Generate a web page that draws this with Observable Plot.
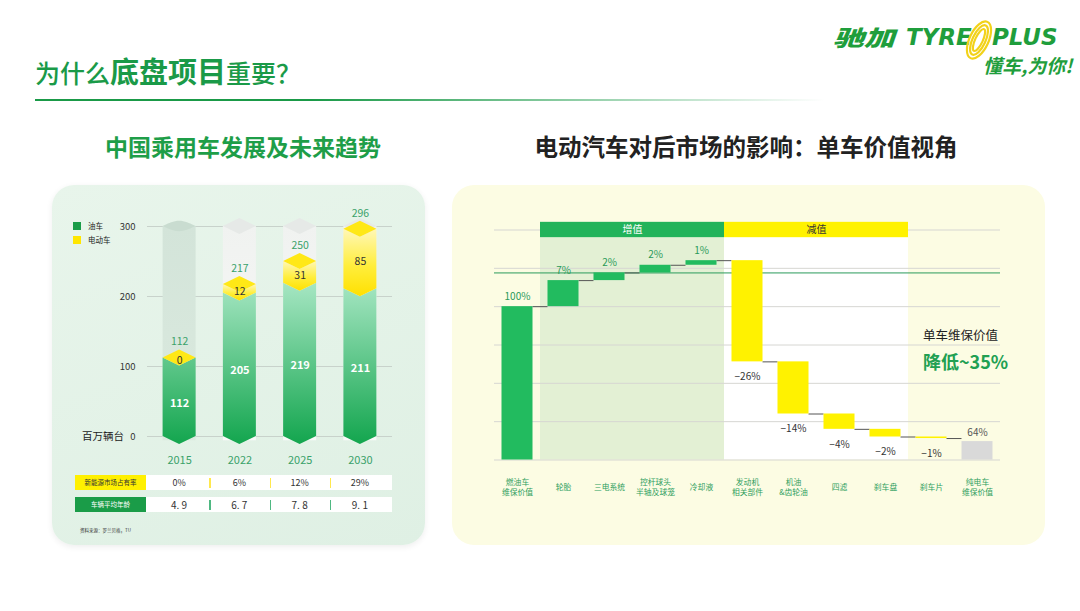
<!DOCTYPE html>
<html><head><meta charset="utf-8">
<script src="https://cdn.jsdelivr.net/npm/d3@7"></script>
<script src="https://cdn.jsdelivr.net/npm/@observablehq/plot@0.6"></script>
<style>
html,body{margin:0;padding:0}
body{width:1080px;height:611px;overflow:hidden;background:#fff;position:relative;font-family:"Noto Sans CJK SC","Noto Sans",sans-serif}
.a{position:absolute;white-space:nowrap;line-height:1}
.chart{position:absolute}
</style></head><body>
<svg width="0" height="0" style="position:absolute">
<defs>
 <linearGradient id="gGreen" gradientUnits="userSpaceOnUse" x1="0" y1="100" x2="0" y2="258">
   <stop offset="0" stop-color="#a4e5c1"/><stop offset="1" stop-color="#14a64f"/>
 </linearGradient>
 <linearGradient id="gYellow" x1="0" y1="0" x2="0" y2="1">
   <stop offset="0" stop-color="#fff7b8"/><stop offset="0.55" stop-color="#ffee3c"/><stop offset="1" stop-color="#ffe000"/>
 </linearGradient>
 <linearGradient id="colA" x1="0" y1="0" x2="0" y2="1">
   <stop offset="0" stop-color="#d3e4d9"/><stop offset="1" stop-color="#dbeadf"/>
 </linearGradient>
 <linearGradient id="colB" x1="0" y1="0" x2="0" y2="1">
   <stop offset="0" stop-color="#f0f2f0"/><stop offset="1" stop-color="#f9faf9"/>
 </linearGradient>
</defs></svg>

<!-- title -->
<div class="a" style="left:35px;top:56px;color:#1a9a48;font-size:25px;font-weight:500">为什么<span style="font-size:29px;font-weight:700">底盘项目</span>重要？</div>
<div class="a" style="left:35px;top:99px;width:790px;height:2px;background:linear-gradient(to right,#1a9a48 0%,#1a9a48 35%,rgba(26,154,72,0) 100%)"></div>

<!-- logo -->
<div class="a" style="left:833px;top:25px;color:#1f9e3c;font-size:22px;font-weight:900;font-style:italic;transform:scaleX(1.4);transform-origin:left">驰加</div>
<div class="a" style="left:906px;top:26px;color:#1f9e3c;font-size:23px;font-weight:bold;font-style:italic;font-family:'DejaVu Sans'">TYRE</div>
<svg class="a" style="left:958px;top:17px" width="42" height="46" viewBox="0 0 42 46">
 <g fill="none" stroke="#f2d21a" stroke-width="2.2" transform="rotate(25 21 23)">
  <ellipse cx="21" cy="23" rx="9.5" ry="20"/><ellipse cx="21" cy="23" rx="6.5" ry="16"/><ellipse cx="21" cy="23" rx="3.8" ry="12"/>
 </g>
</svg>
<div class="a" style="left:992px;top:26px;color:#1f9e3c;font-size:23px;font-weight:bold;font-style:italic;font-family:'DejaVu Sans'">PLUS</div>
<div class="a" style="left:983px;top:55px;color:#1f9e3c;font-size:19px;font-weight:700;font-style:italic">懂车,为你!</div>

<!-- subtitles -->
<div class="a" style="left:243px;top:135px;transform:translateX(-50%);color:#1e9e48;font-size:23px;font-weight:700">中国乘用车发展及未来趋势</div>
<div class="a" style="left:746px;top:135px;transform:translateX(-50%);color:#222;font-size:23.5px;font-weight:700">电动汽车对后市场的影响：单车价值视角</div>

<!-- panels -->
<div class="a" style="left:52px;top:185px;width:373px;height:360px;border-radius:22px;background:linear-gradient(160deg,#e8f5eb,#dff0e4);box-shadow:0 2px 6px rgba(0,0,0,0.07)"></div>
<div class="a" style="left:452px;top:185px;width:593px;height:360px;border-radius:22px;background:#fcfce3"></div>

<div id="leftChart" class="chart" style="left:52px;top:185px"></div>
<div id="rightChart" class="chart" style="left:452px;top:185px"></div>
<div id="extras"></div>

<script>
// ---------- data: left chart ----------
const years = ["2015", "2022", "2025", "2030"];
const oilCars = [112, 205, 219, 211];     // 油车 (百万辆台)
const evCars = [0, 12, 31, 85];           // 电动车
const totals = [112, 217, 250, 296];      // 总量
const leftTicks = [0, 100, 200, 300];
const leftYMax = 300;
const evShare = ["0%", "6%", "12%", "29%"];      // 新能源市场占有率
const avgAge = ["4. 9", "6. 7", "7. 8", "9. 1"]; // 车辆平均年龄
const tableRows = ["新能源市场占有率", "车辆平均年龄"];
const legendNames = ["油车", "电动车"];
const leftUnit = "百万辆台";
const sourceNote = "资料来源：罗兰贝格，TU";

// ---------- data: right chart (waterfall, bar extents as drawn) ----------
const wfCategories = ["燃油车\n维保价值", "轮胎", "三电系统", "控杆球头\n半轴及球笼", "冷却液", "发动机\n相关部件", "机油\n&齿轮油", "四滤", "刹车盘", "刹车片", "纯电车\n维保价值"];
const wfLabels = ["100%", "7%", "2%", "2%", "1%", "−26%", "−14%", "−4%", "−2%", "−1%", "64%"];
const wfStart = [0, 100, 117, 122, 127, 130, 64, 30, 20, 15, 0];
const wfEnd = [100, 117, 122, 127, 130, 64, 30, 20, 15, 14, 12];
const wfKind = ["base", "up", "up", "up", "up", "down", "down", "down", "down", "down", "total"];
const wfGroupNames = ["增值", "减值"];
const wfGroupFrom = [1, 5];
const wfGroupTo = [4, 8];
const wfGrid = [0, 25, 50, 75, 100, 125, 150];
const wfMarker = [122];
const calloutLine1 = "单车维保价值";
const calloutLine2 = "降低~35%";

const FONT = '"Noto Sans CJK SC","Noto Sans",sans-serif';

// ---------- left chart ----------
const HW = 0.274, H = 11.4;
const idx = years.map((_, i) => i);
const chevron = (i, b, t) => [
  {k: i, x: i - HW, y1: b, y2: t},
  {k: i, x: i, y1: b - H, y2: t - H},
  {k: i, x: i + HW, y1: b, y2: t}];
const diamond = (i, t) => [
  {k: i, x: i - HW, y1: t, y2: t},
  {k: i, x: i, y1: t - H, y2: t + H},
  {k: i, x: i + HW, y1: t, y2: t}];
const column = i => [{k: i, x: i - HW, y1: -6, y2: leftYMax}, {k: i, x: i + HW, y1: -6, y2: leftYMax}];

const colA = column(0), colB = idx.slice(1).flatMap(column);
const capA = diamond(0, leftYMax), capB = idx.slice(1).flatMap(i => diamond(i, leftYMax));
const greenBodies = idx.flatMap(i => chevron(i, 0, oilCars[i]));
const yellowBodies = idx.filter(i => evCars[i] > 0).flatMap(i => chevron(i, oilCars[i], oilCars[i] + evCars[i]));
const yellowCaps = idx.flatMap(i => diamond(i, oilCars[i] + evCars[i]));
const A = {x1: "x", y1: "y1", y2: "y2", z: "k"};

const left = Plot.plot({
  width: 373, height: 290,
  marginLeft: 95, marginRight: 33, marginTop: 41, marginBottom: 39,
  x: {domain: [-0.533, 3.533], axis: null},
  y: {domain: [0, leftYMax], axis: null},
  style: {fontFamily: FONT, background: "transparent", overflow: "visible"},
  marks: [
    Plot.ruleY(leftTicks, {stroke: "#c8d2cb", strokeWidth: 1}),
    Plot.area(colA, {...A, fill: "url(#colA)"}),
    Plot.area(colB, {...A, fill: "url(#colB)"}),
    Plot.area(capA, {...A, fill: "#c9dcd0", curve: "basis"}),
    Plot.area(capB, {...A, fill: "#e6e9e7"}),
    Plot.area(greenBodies, {...A, fill: "url(#gGreen)"}),
    Plot.area(yellowBodies, {...A, fill: "url(#gYellow)"}),
    Plot.area(yellowCaps, {...A, fill: "#ffe816"}),
    Plot.text(leftTicks, {y: d => d, text: d => String(d), frameAnchor: "left", textAnchor: "end", dx: -12, fontSize: 9.5, fill: "#333"}),
    Plot.text(idx, {x: i => i, y: () => 0, dy: 24, text: i => years[i], fill: "#3aa26a", fontSize: 11}),
    Plot.text(idx, {x: i => i, y: i => totals[i], dy: -16, text: i => String(totals[i]), fill: "#3aa26a", fontSize: 10.5}),
    Plot.text(idx, {x: i => i, y: i => oilCars[i] / 2, dy: 6, text: i => String(oilCars[i]), fill: "#fff", fontSize: 11, fontWeight: "bold"}),
    Plot.text(idx, {x: i => i, y: i => oilCars[i] + evCars[i] / 2, dy: 3, text: i => String(evCars[i]), fill: "#333", fontSize: 10.5})
  ]
});
document.getElementById("leftChart").append(left);

// ---------- right chart ----------
const HW2 = 0.337;
const wfIdx = wfCategories.map((_, i) => i);
const kindFill = {base: "#22bb5f", up: "#22bb5f", down: "#fff200", total: "#d9d9d9"};
const groupBg = ["#e3f0d4", "#ffffff"];
const headerFill = ["#22b35a", "#fff200"];
const headerInk = ["#ffffff", "#333333"];
const gIdx = wfGroupNames.map((_, i) => i);

const right = Plot.plot({
  width: 593, height: 330,
  marginLeft: 42, marginRight: 45, marginTop: 44.5, marginBottom: 55.5,
  x: {domain: [-0.5, 10.5], axis: null},
  y: {domain: [0, 150], axis: null},
  color: {type: "identity"},
  style: {fontFamily: FONT, background: "transparent", overflow: "visible"},
  marks: [
    Plot.rect(gIdx, {x1: g => wfGroupFrom[g] - 0.5, x2: g => wfGroupTo[g] + 0.5, y1: () => 0, y2: () => 145, fill: g => groupBg[g]}),
    Plot.ruleY(wfGrid, {stroke: "#d6d6d2", strokeWidth: 1}),
    Plot.ruleY(wfMarker, {stroke: "#2a9a5a", strokeWidth: 1}),
    Plot.rect(gIdx, {x1: g => wfGroupFrom[g] - 0.5, x2: g => wfGroupTo[g] + 0.5, y1: () => 145, y2: () => 155, fill: g => headerFill[g]}),
    Plot.text(gIdx, {x: g => (wfGroupFrom[g] + wfGroupTo[g]) / 2, y: () => 150, text: g => wfGroupNames[g], fill: g => headerInk[g], fontSize: 10}),
    Plot.ruleY(wfIdx.slice(0, -1), {y: i => wfEnd[i], x1: i => i + HW2, x2: i => i + 1 - HW2, stroke: "#555", strokeWidth: 1}),
    Plot.rect(wfIdx, {x1: i => i - HW2, x2: i => i + HW2, y1: i => wfStart[i], y2: i => wfEnd[i], fill: i => kindFill[wfKind[i]]}),
    Plot.text(wfIdx.filter(i => wfKind[i] === "base" || wfKind[i] === "up"), {x: i => i, y: i => wfEnd[i], dy: -10, text: i => wfLabels[i], fill: "#2a9a5a", fontSize: 10}),
    Plot.text(wfIdx.filter(i => wfKind[i] === "down"), {x: i => i, y: i => wfEnd[i], dy: 15, text: i => wfLabels[i], fill: "#333", fontSize: 10}),
    Plot.text(wfIdx.filter(i => wfKind[i] === "total"), {x: i => i, y: i => wfEnd[i], dy: -9, text: i => wfLabels[i], fill: "#555", fontSize: 10}),
    Plot.text(wfIdx, {x: i => i, y: () => 0, dy: 27, text: i => wfCategories[i], fill: "#2e9e5e", fontSize: 7.8, lineHeight: 1.3})
  ]
});
document.getElementById("rightChart").append(right);

// ---------- extras (legend, unit, table, callout) ----------
const ex = document.getElementById("extras");
function add(html) { ex.insertAdjacentHTML("beforeend", html); }
const legendColors = ["#1a9c48", "#ffe600"];
legendNames.forEach((n, i) => {
  const y = 222 + i * 14;
  add(`<div class="a" style="left:73px;top:${y}px;width:8px;height:8px;background:${legendColors[i]}"></div>`);
  add(`<div class="a" style="left:88px;top:${y}px;font-size:7.5px;color:#222">${n}</div>`);
});
add(`<div class="a" style="left:82px;top:431px;font-size:10.5px;color:#222">${leftUnit}</div>`);

const xs = left.scale("x");
const colX = idx.map(i => 52 + xs.apply(i));
const rowTop = [475, 497];
const rowBox = ["#fff000", "#1a9c48"];
const rowInk = ["#333", "#fff"];
const rowSep = ["#ffe84d", "#4fb882"];
const rowVals = [evShare, avgAge];
tableRows.forEach((name, r) => {
  const t = rowTop[r];
  add(`<div class="a" style="left:75px;top:${t}px;width:71px;height:15px;background:${rowBox[r]};color:${rowInk[r]};font-size:6.5px;display:flex;align-items:center;justify-content:center">${name}</div>`);
  add(`<div class="a" style="left:146px;top:${t}px;width:246px;height:15px;background:#fff"></div>`);
  rowVals[r].forEach((v, c) => {
    add(`<div class="a" style="left:${colX[c]}px;top:${t}px;height:15px;transform:translateX(-50%);display:flex;align-items:center;font-size:${r ? 10 : 9}px;color:#333">${v}</div>`);
    if (c > 0) {
      const sx = (colX[c - 1] + colX[c]) / 2;
      add(`<div class="a" style="left:${sx}px;top:${t + 3}px;width:1.5px;height:10px;background:${rowSep[r]}"></div>`);
    }
  });
});
add(`<div class="a" style="left:80px;top:528px;font-size:4.5px;color:#333">${sourceNote}</div>`);

add(`<div class="a" style="left:923px;top:329px;font-size:12.5px;color:#222">${calloutLine1}</div>`);
add(`<div class="a" style="left:923px;top:352px;font-size:18px;font-weight:700;color:#21a052">${calloutLine2}</div>`);
</script>
</body></html>
